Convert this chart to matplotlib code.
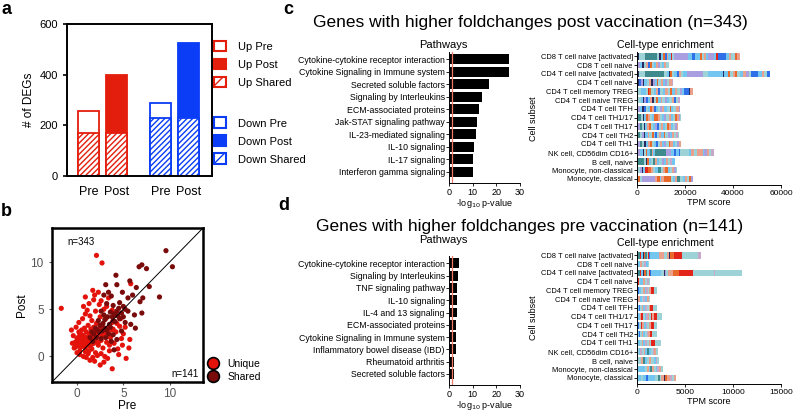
import matplotlib
matplotlib.use('Agg')
import matplotlib.pyplot as plt
from matplotlib.patches import Patch
from matplotlib.lines import Line2D
import numpy as np

plt.rcParams['font.family'] = ['Liberation Sans', 'DejaVu Sans']
plt.rcParams['hatch.linewidth'] = 1.0

RED = '#e41e0c'
BLUE = '#0a3df5'
UNIQ = '#e3120b'
SHRD = '#7a0b0b'

# ---------------- panel a data ----------------
a_labels = ['Pre', 'Post', 'Pre', 'Post']
up_pre, up_post, up_shared = 258, 400, 170
down_pre, down_post, down_shared = 288, 525, 230

# ---------------- panel b data ----------------
uniq_x = [-0.2, 0, 0.1, 0.2, 0.3, 0.4, 0.5, 0.5, 0.6, 0.7, 0.8, 0.8, 0.9, 1.0, 1.0, 1.1, 1.2, 1.2, 1.3, 1.3,
          1.4, 1.5, 1.5, 1.6, 1.6, 1.7, 1.8, 1.8, 1.9, 2.0, 2.0, 2.1, 2.2, 2.3, 2.4, 2.5, 2.6, 2.7, 2.8, 3.0,
          3.1, 3.2, 3.3, 3.5, 3.6, 3.8, 4.0, 4.2, 4.4, 4.6, 4.8, 5.0,
          -1.7, -0.6, -0.5, -0.3, -0.4, -0.1, 0.2, 0.3, 0.0, 0.6, 0.9, 0.7, 0.9, 1.3, 1.7, 1.8, 1.9, 2.4,
          2.6, 2.1, 2.7, 1.1, 1.4, 2.0, 2.9, 3.2, 3.8, 4.1, 2.3, 3.4,
          0.3, 0.7, 1.0, 1.4, 1.9, 2.5, 3.3, 3.8, 5.3, 5.6, 5.7, 1.2, 1.7, 2.2, 2.6, 3.0, 4.5, 4.9, 2.9, 0.9,
          3.5, 4.3, 5.2, 5.8, 4.7, 3.9, 2.7, 3.7,
          0.1, 0.4, 0.6, 0.9, 1.1, 1.4, 1.6, 1.9, 2.1, 2.3, 0.2, 0.5, 0.8, 1.0, 1.3, 1.5, 1.8, 0.0, -0.2, 0.7]
uniq_y = [1.5, 1.2, 2.0, 1.6, 2.4, 1.0, 1.8, 2.8, 1.3, 2.2, 1.6, 3.0, 0.9, 2.0, 2.6, 1.4, 3.3, 1.9, 0.6, 2.4,
          1.1, 2.9, 1.7, 3.8, 0.8, 2.2, 1.4, 3.1, 2.6, 1.9, 0.4, 3.5, 2.3, 1.2, 2.9, 4.2, 1.7, 3.2, 0.9, 2.5,
          4.0, 1.5, 3.0, 0.6, 2.0, 3.6, 1.4, 2.6, 0.8, 3.2, 1.9, 2.4,
          5.1, 2.8, 1.4, 0.9, 2.2, 3.1, 3.6, 0.6, 0.4, 4.0, 4.5, 5.3, 6.3, 5.6, 7.0, 6.0, 6.5, 5.5,
          5.9, 10.7, 9.9, 4.9, 4.3, 4.8, 5.0, 5.3, 4.9, 4.4, 6.8, 6.2,
          0.2, 0.0, -0.1, -0.4, -0.5, -0.9, -0.2, -1.3, -0.2, 0.9, 1.8, 0.3, -0.1, 0.1, 0.3, 0.0, 0.2, 1.2, -0.6, 0.5,
          1.2, 3.5, 3.1, 7.7, 4.0, 2.9, 2.2, 2.8,
          1.1, 1.4, 2.0, 1.2, 1.8, 2.1, 1.3, 1.6, 2.7, 1.5, 2.6, 2.3, 1.1, 1.5, 1.6, 2.3, 2.0, 1.9, 1.0, 1.7]
shared_x = [9.6, 10.3, 7.0, 6.7, 7.5, 4.2, 5.7, 3.1, 4.3, 6.4, 7.8, 3.7, 8.9, 7.1, 4.6, 4.3, 6.2, 7.0, 6.0, 5.2,
            4.8, 4.4, 4.0, 3.6, 3.3, 3.0, 2.8, 2.5, 3.5, 3.9, 4.5, 5.0, 2.2, 2.0, 2.4, 2.7, 3.0, 3.2, 3.4, 3.6,
            1.8, 1.6, 2.3, 2.9, 3.8, 4.1, 4.6, 5.0, 5.5, 3.2, 3.4, 2.6, 2.1, 1.4, 1.7, 2.6, 3.1, 3.9, 4.3, 4.8,
            5.2, 6.3, 5.8, 4.0, 3.7, 5.5, 4.9, 6.8, 2.9, 3.9]
shared_y = [11.2, 9.5, 9.7, 9.5, 9.3, 8.6, 8.0, 7.6, 7.6, 7.3, 7.4, 6.4, 6.3, 6.2, 5.7, 4.8, 4.4, 4.6, 6.5, 5.0,
            4.6, 4.3, 4.5, 4.7, 4.2, 3.9, 3.5, 3.3, 3.4, 3.8, 5.1, 4.2, 2.8, 3.0, 2.6, 2.7, 3.0, 2.8, 2.4, 3.1,
            2.4, 2.6, 3.8, 4.4, 4.2, 3.7, 4.0, 5.3, 4.8, 5.6, 6.8, 4.8, 2.0, 2.0, 1.6, 1.9, 2.0, 2.3, 1.8, 2.7,
            3.6, 3.0, 3.4, 0.7, 1.6, 6.2, 6.8, 5.8, 6.5, 5.4]

# ---------------- panels c/d data ----------------
c_path_names = ['Cytokine-cytokine receptor interaction', 'Cytokine Signaling in Immune system',
                'Secreted soluble factors', 'Signaling by Interleukins', 'ECM-associated proteins',
                'Jak-STAT signaling pathway', 'IL-23-mediated signaling', 'IL-10 signaling',
                'IL-17 signaling', 'Interferon gamma signaling']
c_path_vals = [25.5, 25.5, 17.0, 14.0, 12.5, 12.0, 11.2, 10.7, 10.1, 10.0]

d_path_names = ['Cytokine-cytokine receptor interaction', 'Signaling by Interleukins',
                'TNF signaling pathway', 'IL-10 signaling', 'IL-4 and 13 signaling',
                'ECM-associated proteins', 'Cytokine Signaling in Immune system',
                'Inflammatory bowel disease (IBD)', 'Rheumatoid arthritis', 'Secreted soluble factors']
d_path_vals = [4.3, 4.0, 3.3, 3.3, 3.2, 3.0, 3.0, 3.0, 2.2, 2.2]

cell_names = ['CD8 T cell naive [activated]', 'CD8 T cell naive', 'CD4 T cell naive [activated]',
              'CD4 T cell naive', 'CD4 T cell memory TREG', 'CD4 T cell naive TREG', 'CD4 T cell TFH',
              'CD4 T cell TH1/17', 'CD4 T cell TH17', 'CD4 T cell TH2', 'CD4 T cell TH1',
              'NK cell, CD56dim CD16+', 'B cell, naive', 'Monocyte, non-classical', 'Monocyte, classical']

# gene segments per cell subset: colour code + TPM (thousands)
c_segments = [
    "N.8 A2.5 T5 A1 N.5 L1.2 O.7 B.8 S.6 L1 R.5 A.8 V6 L1.5 B1.2 L2 O.8 A1 S.7 L1 V2.5 L1 R.6 B3.5 L1 S1 A1.5 O.8 S1.5",
    "N.6 V.8 L.7 N.8 A.9 S.7 B.8 O1 A.9 L.8 S.7 V1 A.9 L.8 S.8 A1",
    "N.8 A2.5 T8 A1 L1 N.5 O.8 A1 L1 B.8 S.8 A1 L1.5 V7 A2 L6 N.6 L1.5 O1 A1 S1 O.8 A1.5 L1 S1.5 V1 A1 B3 L1.5 S1 A1 B1.5",
    "N.7 B.8 V.9 N.7 L.9 A.8 S.9 N.8 V.9 L.8 O.7 A1 S.8 L.9 V.9 A1 S1.1 P.5",
    "N.6 A1 L2 A.8 R.7 O.8 A1 L1 S.9 B.8 A1.2 L1 S1 A1.1 O.8 L1 S.9 A1.2 V.8 L1 B2 N.5 S1.1",
    "N.6 A.9 L.8 N.7 V.8 B.9 L.8 S.9 N.7 A1 O.8 L.9 S.8 A1 V.9 L.9 A1 S1 B.8 A1 P.8",
    "N.5 V.8 L.9 N.6 B.8 A.9 L.8 O.8 S.9 B.8 L1 A.9 V.8 S.9 L1 A1.2 O.7 L.9 A1 S1.1 V.7",
    "N.5 T1 A.8 N.6 L.9 O.8 S.9 A.8 L.9 O1.5 S.9 A.9 L.9 V.8 A1 S.9 L.9 A1 O.7 S.8 V.5 A.5",
    "N.5 V.7 T.8 A.9 N.6 L.8 S.8 O.7 A.9 L.8 V.8 B.8 A.9 S.8 L.9 A1 O.6 S.8 L.9 A.9 V.6 S.5",
    "N.5 T.9 A.8 V.7 N.6 L.9 S.8 A.9 O.8 L.8 B.7 A.9 S.9 L.9 O.7 A1 V.8 L.9 S.8 A.9 P.7 A.6",
    "N.5 V.8 T.9 A.8 N.6 L.9 S.8 O.9 A.8 L.9 B.8 A1 S.8 L.9 V.8 A1 O.7 S.9 L.9 A1 V.9 S.6 A.3",
    "N.6 V.8 L.9 N.5 A.8 O.7 L1 T.8 S.7 L.8 T4.5 V2 L1.5 B.8 L1 B.7 A3.5 L1 S1.2 A1 S2.5 L.8 V1 S1 A.8 P1",
    "N.6 T2.2 A.8 N.5 O.8 L.9 A.8 T1 S.8 L.9 A1 V.8 L.9 S.8 A1 P.9 L1",
    "N.5 A.8 V.7 N.5 L.9 R1 O1.5 S.8 A1 L.9 T1.5 A.9 S.8 O1 L.9 A1 S.8 V.7 A.6",
    "N.5 O.8 A.7 V5.5 S.9 O1 L.8 S.9 O3 A.9 L.8 S1 T1 A1.2 L.8 S.9 A1 O.8 V.7",
]
d_segments = [
    "N.15 T.15 R.1 L.2 N.1 O.15 T.15 A.15 R.1 B.15 L.9 S.5 A.3 S.2 N.1 O.5 R.8 A1.7 P.3",
    "R.15 L.2 S.2 A.2 P.15 L.2 A.2",
    "N.15 T.15 R.15 L.2 N.1 O.15 T.15 A.2 R.1 B.15 L1 A.3 N.1 V.15 A.2 S.5 O.6 R1.5 A2.2 P.08 A2.85",
    "R.2 A.15 L.25 S.2 A.2 P.2 A.2",
    "L.15 B.1 L.2 A.15 S.2 L.15 P.15 A.2 S.15 R.35 A.3",
    "R.15 S.15 L.2 A.15 P.15 L.2 S.2 A.2",
    "L.2 B.1 A.2 S.15 L.2 P.15 A.2 S.2 R.3 A.4",
    "R.1 L.2 S.15 R.15 A.2 L.15 P.15 S.2 A.15 R.15 S.15 R.35 A.5",
    "L.15 B.1 A.2 R.1 S.15 L.2 P.15 A.2 S.2 R.3 A.35",
    "L.2 B.1 A.2 S.15 L.2 A.15 P.15 S.2 R.25 A.5",
    "R.1 L.2 A.2 S.15 L.2 P.15 A.2 S.15 A.15 R.35 A.65",
    "A.2 L.15 P.15 A.2 S.15 L.2 T.2 L.2 A.2 P.15 S.2 A.2",
    "L.15 A.3 S.2 T.2 L.15 A.2 R.1 S.2 A.3 L.2 P.1 A.2",
    "L.8 A.2 S.2 L.2 T.15 S.2 A.2 L.15 P.15 S.2 A.25",
    "L.4 A.2 L.3 B.2 L.8 A.3 T.15 A.2 S.3 N.1 O.2 S.25 P.2 A.3 S.2",
]
palette = {'N': '#2b2a5c', 'T': '#3f8a8c', 'A': '#9dd2d7', 'L': '#73c6f0', 'B': '#2f6fe8',
           'V': '#a99ee0', 'O': '#e8692b', 'R': '#e2241b', 'S': '#e9a08d', 'P': '#c7a8c8'}

W, H = 796, 411
fig = plt.figure(figsize=(W / 100, H / 100), dpi=100)


def rect(l, t, r, b):
    return [l / W, 1 - b / H, (r - l) / W, (b - t) / H]


# ================= panel a =================
ax = fig.add_axes(rect(67, 24, 212, 176))
xs = [0, 1, 2.57, 3.57]
bw = 0.75
ax.bar(xs[0], up_pre, bw, facecolor='white', edgecolor=RED, linewidth=1.3)
ax.bar(xs[1], up_post, bw, facecolor=RED, edgecolor=RED, linewidth=1.3)
ax.bar(xs[0], up_shared, bw, facecolor='white', edgecolor=RED, hatch='//////', linewidth=1.3)
ax.bar(xs[1], up_shared, bw, facecolor='white', edgecolor=RED, hatch='//////', linewidth=1.3)
ax.bar(xs[2], down_pre, bw, facecolor='white', edgecolor=BLUE, linewidth=1.3)
ax.bar(xs[3], down_post, bw, facecolor=BLUE, edgecolor=BLUE, linewidth=1.3)
ax.bar(xs[2], down_shared, bw, facecolor='white', edgecolor=BLUE, hatch='//////', linewidth=1.3)
ax.bar(xs[3], down_shared, bw, facecolor='white', edgecolor=BLUE, hatch='//////', linewidth=1.3)
ax.set_xlim(-0.77, 4.41)
ax.set_ylim(0, 600)
ax.set_yticks([0, 200, 400, 600])
ax.set_xticks(xs)
ax.set_xticklabels(a_labels, fontsize=9)
ax.tick_params(axis='x', length=0, pad=7)
ax.tick_params(axis='y', labelsize=8, width=1.2, length=3)
ax.set_ylabel('# of DEGs', fontsize=8.5, labelpad=3)
for s in ax.spines.values():
    s.set_linewidth(1.4)

up_handles = [Patch(facecolor='white', edgecolor=RED, linewidth=1.5),
              Patch(facecolor=RED, edgecolor=RED, linewidth=1.5),
              Patch(facecolor='white', edgecolor=RED, hatch='///', linewidth=1.5)]
dn_handles = [Patch(facecolor='white', edgecolor=BLUE, linewidth=1.5),
              Patch(facecolor=BLUE, edgecolor=BLUE, linewidth=1.5),
              Patch(facecolor='white', edgecolor=BLUE, hatch='///', linewidth=1.5)]
leg_kw = dict(loc='upper left', frameon=False, fontsize=8, handlelength=1.1, handleheight=1.1,
              labelspacing=0.62, handletextpad=1.0, borderpad=0, borderaxespad=0)
lg1 = ax.legend(up_handles, ['Up Pre', 'Up Post', 'Up Shared'], bbox_to_anchor=(1.015, 0.89), **leg_kw)
ax.add_artist(lg1)
ax.legend(dn_handles, ['Down Pre', 'Down Post', 'Down Shared'], bbox_to_anchor=(1.015, 0.385), **leg_kw)

# ================= panel b =================
ax = fig.add_axes(rect(52, 228, 203, 382))
ax.scatter(uniq_x, uniq_y, s=14, color=UNIQ, edgecolors='none', zorder=2)
ax.scatter(shared_x, shared_y, s=14, color=SHRD, edgecolors='none', zorder=3)
ax.plot([-5, 20], [-5, 20], color='black', lw=0.7, zorder=4)
ax.set_xlim(-2.7, 13.6)
ax.set_ylim(-2.7, 13.6)
ax.set_xticks([0, 5, 10])
ax.set_yticks([0, 5, 10])
ax.tick_params(colors='#555555', labelsize=8.5, width=0.8, length=2.5)
ax.tick_params(axis='x', pad=1.5)
ax.set_xlabel('Pre', fontsize=8.5, labelpad=0)
ax.set_ylabel('Post', fontsize=8.5, labelpad=2)
for s in ax.spines.values():
    s.set_linewidth(1.8)
ax.text(0.1, 0.91, 'n=343', transform=ax.transAxes, fontsize=7, va='center', ha='left')
ax.text(0.97, 0.055, 'n=141', transform=ax.transAxes, fontsize=7, va='center', ha='right')
hb = [Line2D([], [], ls='none', marker='o', markersize=8.5, markerfacecolor=UNIQ,
             markeredgecolor='black', markeredgewidth=1.2),
      Line2D([], [], ls='none', marker='o', markersize=8.5, markerfacecolor=SHRD,
             markeredgecolor='black', markeredgewidth=1.2)]
ax.legend(hb, ['Unique', 'Shared'], loc='lower left', bbox_to_anchor=(1.03, 0.0), frameon=False,
          fontsize=7.5, handlelength=1.0, handletextpad=0.9, labelspacing=0.3, borderpad=0,
          borderaxespad=0)


# ================= pathways & cell types =================
def pathways(rc, names, vals):
    ax = fig.add_axes(rc)
    y = np.arange(len(names))
    ax.barh(y, vals, height=0.8, color='black', zorder=2)
    ax.axvline(1.3, color='#f07a6a', lw=0.9, zorder=3)
    ax.set_ylim(len(names) - 0.1, -0.6)
    ax.set_xlim(0, 30)
    ax.set_xticks([0, 10, 20, 30])
    ax.set_yticks(y)
    ax.set_yticklabels(names, fontsize=6.3)
    ax.tick_params(axis='y', length=2, width=0.6, pad=1)
    ax.tick_params(axis='x', length=2.5, width=0.6, labelsize=6.5, pad=1)
    ax.spines['top'].set_visible(False)
    ax.spines['right'].set_visible(False)
    ax.spines['left'].set_linewidth(0.7)
    ax.spines['bottom'].set_linewidth(0.7)
    ax.set_xlabel('-log$_{10}$ p-value', fontsize=6.5, labelpad=0)
    return ax


def celltypes(rc, segs, xmax, ticks):
    ax = fig.add_axes(rc)
    for i, row in enumerate(segs):
        left = 0.0
        for tok in row.split():
            w = float(tok[1:]) * 1000
            ax.barh(i, w, left=left, height=0.72, color=palette[tok[0]], edgecolor='none', zorder=2)
            left += w
    ax.set_ylim(len(segs) - 0.3, -0.5)
    ax.set_xlim(0, xmax)
    ax.set_xticks(ticks)
    ax.set_yticks(np.arange(len(cell_names)))
    ax.set_yticklabels(cell_names, fontsize=5.4)
    ax.tick_params(axis='y', length=2, width=0.6, pad=1)
    ax.tick_params(axis='x', length=2.5, width=0.6, labelsize=6, pad=1)
    ax.spines['top'].set_visible(False)
    ax.spines['right'].set_visible(False)
    ax.spines['left'].set_linewidth(0.7)
    ax.spines['bottom'].set_linewidth(0.7)
    ax.set_xlabel('TPM score', fontsize=6.5, labelpad=1)
    ax.set_ylabel('Cell subset', fontsize=6.5, labelpad=2)
    return ax


pathways(rect(449, 52, 520, 183), c_path_names, c_path_vals)
celltypes(rect(637, 52, 781, 185), c_segments, 60000, [0, 20000, 40000, 60000])
pathways(rect(449, 256, 520, 385), d_path_names, d_path_vals)
celltypes(rect(637, 251, 781, 384), d_segments, 15000, [0, 5000, 10000, 15000])

fig.text(530 / W, 1 - 23 / H, 'Genes with higher foldchanges post vaccination (n=343)',
         fontsize=12.5, ha='center', va='center')
fig.text(530 / W, 1 - 226 / H, 'Genes with higher foldchanges pre vaccination (n=141)',
         fontsize=12.5, ha='center', va='center')
for yy in (45, 240):
    fig.text(443 / W, 1 - yy / H, 'Pathways', fontsize=8, ha='center', va='center')
for yy in (45, 243):
    fig.text(665 / W, 1 - yy / H, 'Cell-type enrichment', fontsize=7.6, ha='center', va='center')

for lbl, xx, yy in (('a', 6, 9), ('b', 6, 211), ('c', 288, 9), ('d', 284, 205)):
    fig.text(xx / W, 1 - yy / H, lbl, fontsize=13, fontweight='bold', ha='center', va='center')

fig.savefig('out.png', dpi=100)
